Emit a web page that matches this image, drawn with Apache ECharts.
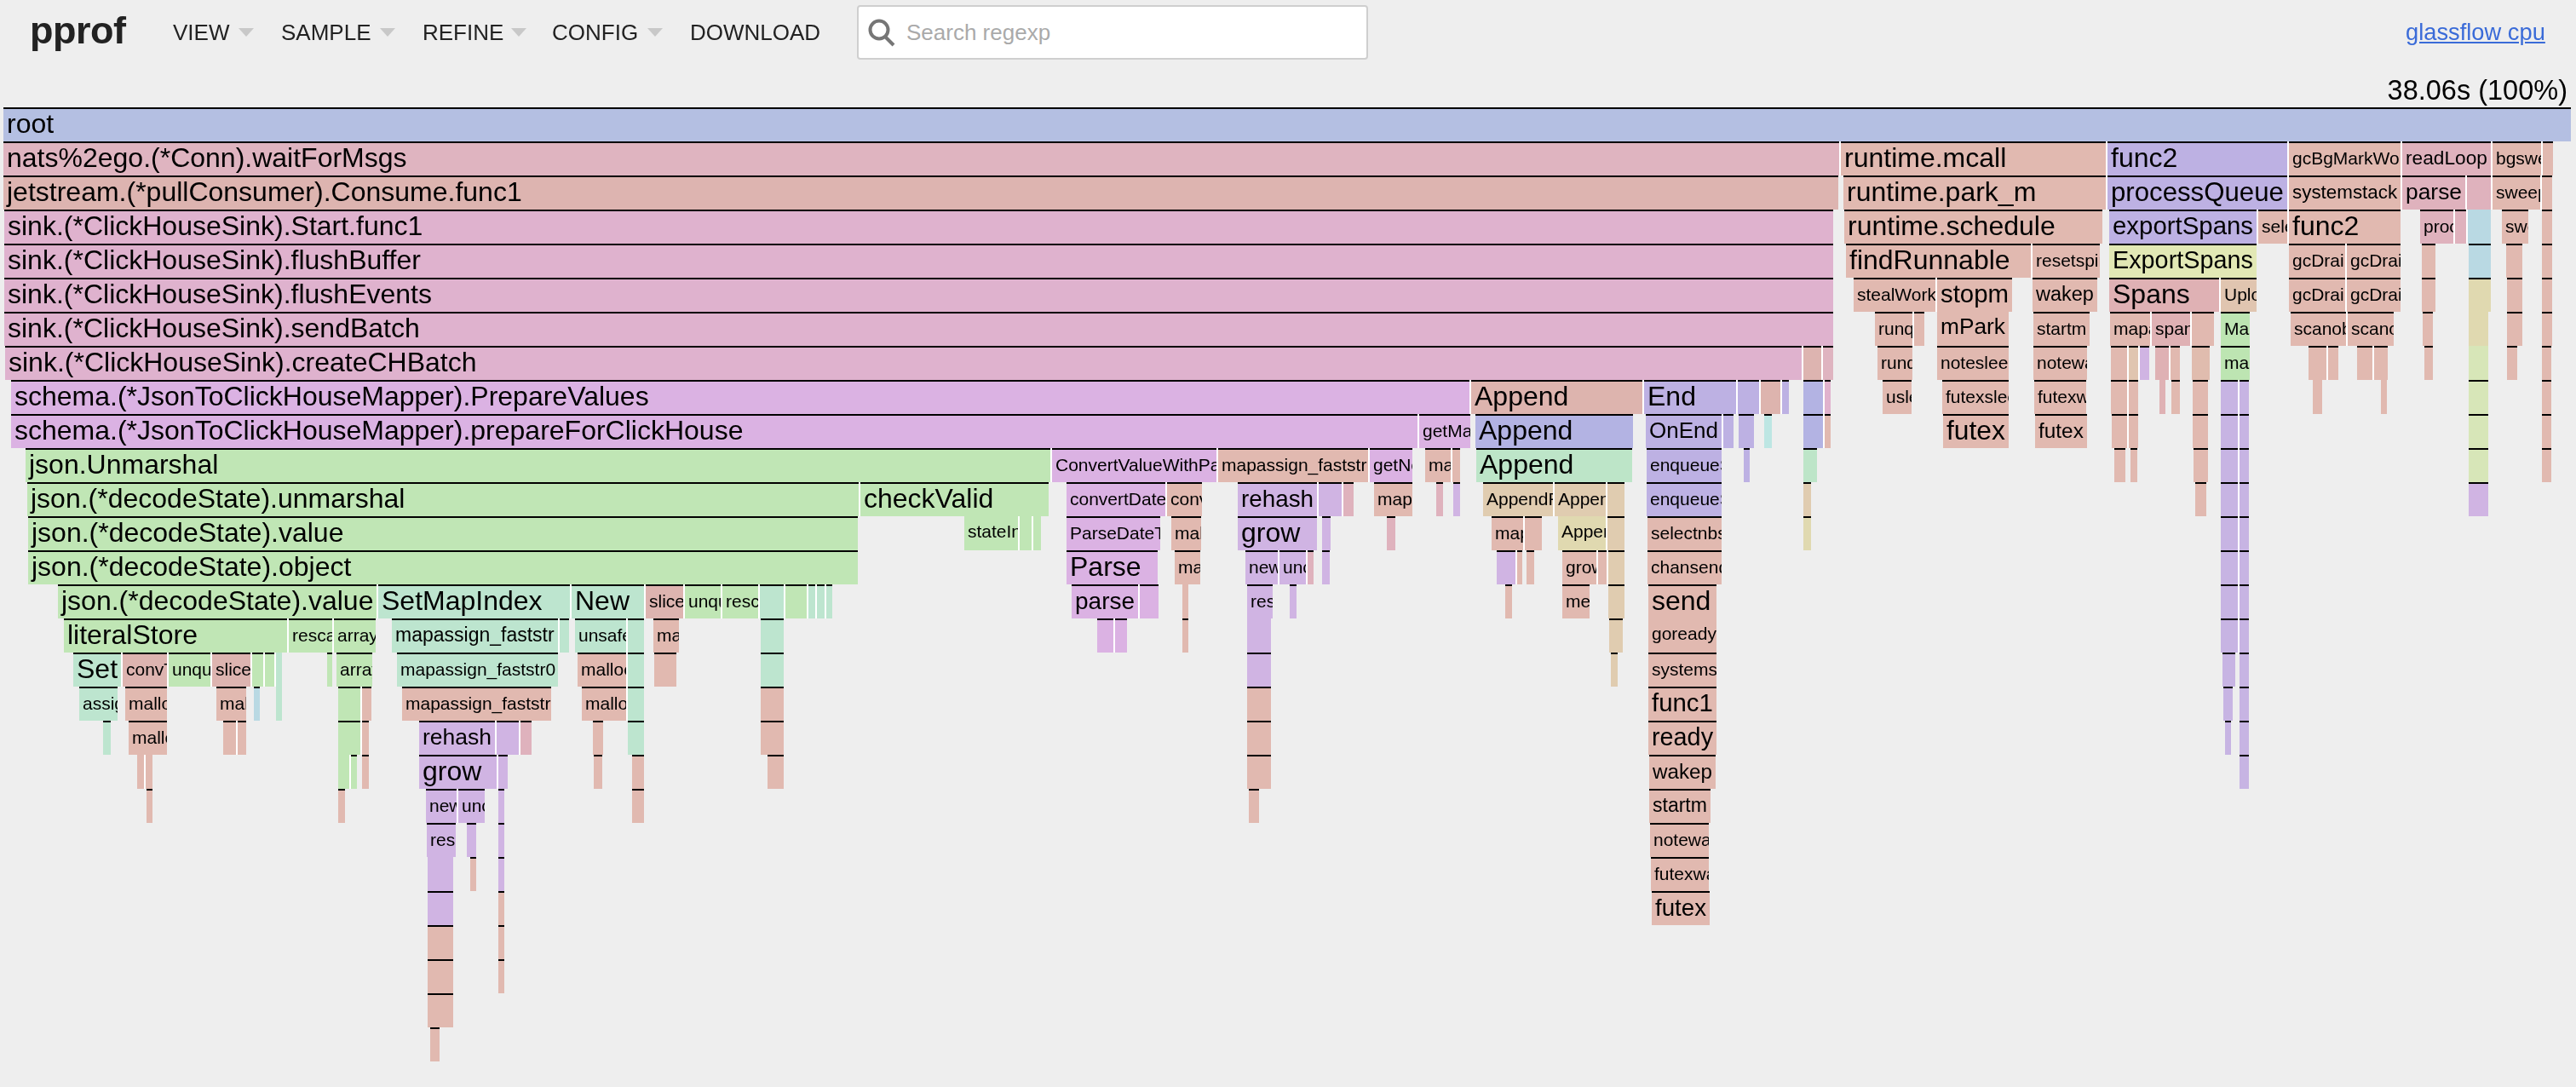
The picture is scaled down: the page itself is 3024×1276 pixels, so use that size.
<!DOCTYPE html>
<html>
<head>
<meta charset="utf-8">
<title>pprof flame graph</title>
<script src="https://cdn.jsdelivr.net/npm/echarts@6/dist/echarts.min.js"></script>
<style>
  html, body { margin: 0; padding: 0; background: #eeeeee; width: 3024px; height: 1276px; overflow: hidden; }
  body { font-family: "Liberation Sans", Arial, sans-serif; color: #222; position: relative; }
  #flame { position: absolute; left: 0; top: 0; width: 3024px; height: 1276px; }
  .head { position: absolute; white-space: nowrap; }
  #logo { left: 35px; top: 11px; font-size: 45px; line-height: 50px; font-weight: bold; letter-spacing: -0.5px; color: #222; }
  .menu { top: 23px; font-size: 26px; line-height: 30px; color: #222; }
  .caret { top: 33px; width: 0; height: 0; border-left: 9px solid transparent; border-right: 9px solid transparent; border-top: 10px solid #c8c8c8; }
  #search { left: 1006px; top: 6px; width: 596px; height: 60px; background: #fff; border: 2px solid #cfcfcf; border-radius: 4px; }
  #icon { left: 1016px; top: 20px; }
  #hint { left: 1064px; top: 23px; font-size: 26px; line-height: 30px; color: #aaaaaa; }
  #profile { left: 2824px; top: 23px; font-size: 27.3px; line-height: 30px; color: #3a6bd8; text-decoration: underline; }
  #total { right: 10px; top: 87px; font-size: 32.5px; line-height: 38px; color: #000; }
</style>
</head>
<body>
<div id="flame"></div>
<div class="head" id="logo">pprof</div>
<div class="head menu" style="left:203px">VIEW</div><div class="head caret" style="left:280px"></div>
<div class="head menu" style="left:330px">SAMPLE</div><div class="head caret" style="left:446px"></div>
<div class="head menu" style="left:496px">REFINE</div><div class="head caret" style="left:600px"></div>
<div class="head menu" style="left:648px">CONFIG</div><div class="head caret" style="left:760px"></div>
<div class="head menu" style="left:810px">DOWNLOAD</div>
<div class="head" id="search"></div>
<svg class="head" id="icon" width="40" height="40" viewBox="0 0 40 40"><circle cx="16" cy="15" r="10.5" fill="none" stroke="#767676" stroke-width="4"/><line x1="23" y1="23" x2="33" y2="33" stroke="#767676" stroke-width="4"/></svg>
<div class="head" id="hint">Search regexp</div>
<div class="head" id="profile">glassflow cpu</div>
<div class="head" id="total">38.06s (100%)</div>
<script>
// Profile total, in seconds.
const totalSeconds = 38.06;

// Colour of each package family in the profile.
const pkgColors = {
  root: '#b4bfe2', nats: '#dfb4c0', jet: '#ddb4b0', sink: '#dfb2ce', schema: '#dbb2e3',
  json: '#c0e6b5', reflect: '#bde5cf', rt: '#e1b9b0', maps: '#d0b4e3', otel: '#bdb1e3',
  sdk: '#e2e8b5', trace: '#dfb1b4', upload: '#e0c5b0', pbuf: '#bde5b2', chgo: '#ddb4ae',
  chcol: '#b3b3e3', chbuf: '#bde5c8', chtan: '#e0ccb0', chyel: '#e0d9b0', net: '#dfb2bd',
  blue: '#b9d9e3', cyan: '#bde6e3', lime: '#d7e6b8', sinkp: '#e0b2cd', violet: '#c7b4e3', sand: '#e0bcae'
};

// One array per stack depth. Frame: [function, start s, self+children s, package, inlined].
const level0 = [['root', 0, 38.06, 'root']];
const level1 = [
  ['nats%2ego.(*Conn).waitForMsgs', 0, 27.21, 'nats'], ['runtime.mcall', 27.24, 3.93, 'rt'],
  ['func2', 31.19, 2.68, 'otel'], ['gcBgMarkWorker', 33.88, 1.65, 'rt'], ['readLoop', 35.56, 1.31, 'net'],
  ['bgsweep', 36.90, 0.71, 'rt'], ['', 37.64, 0.15, 'rt']
];
const level2 = [
  ['jetstream.(*pullConsumer).Consume.func1', 0, 27.20, 'jet'], ['runtime.park_m', 27.28, 3.89, 'rt'],
  ['processQueue', 31.19, 2.68, 'otel'], ['systemstack', 33.88, 1.65, 'rt'], ['parse', 35.56, 0.93, 'net'],
  ['', 36.52, 0.35, 'net'], ['sweepone', 36.90, 0.71, 'rt'], ['', 37.63, 0.15, 'rt']
];
const level3 = [
  ['sink.(*ClickHouseSink).Start.func1', 0.01, 27.12, 'sink'], ['runtime.schedule', 27.29, 3.83, 'rt'],
  ['exportSpans', 31.22, 2.18, 'otel'], ['selectgo', 33.43, 0.40, 'rt'], ['func2', 33.88, 1.65, 'rt'],
  ['processFrame', 35.83, 0.49, 'net'], ['', 36.34, 0.15, 'net'], ['', 36.53, 0.34, 'blue', 1],
  ['sweep', 37.04, 0.39, 'rt'], ['', 37.63, 0.15, 'rt']
];
const level4 = [
  ['sink.(*ClickHouseSink).flushBuffer', 0.01, 27.12, 'sink'], ['findRunnable', 27.31, 2.74, 'rt'],
  ['resetspinning', 30.08, 1.00, 'rt'], ['ExportSpans', 31.22, 2.18, 'sdk'], ['gcDrainMarkWorker', 33.88, 0.83, 'rt'],
  ['gcDrainMarkWorker', 34.74, 0.80, 'rt'], ['', 35.85, 0.20, 'rt'], ['', 36.54, 0.33, 'blue'],
  ['', 37.10, 0.24, 'rt'], ['', 37.63, 0.15, 'rt']
];
const level5 = [
  ['sink.(*ClickHouseSink).flushEvents', 0.01, 27.12, 'sink'], ['stealWork', 27.43, 1.21, 'rt'], ['stopm', 28.67, 1.10, 'rt'],
  ['wakep', 30.08, 0.96, 'rt'], ['Spans', 31.22, 1.63, 'trace'], ['UploadTraces', 32.87, 0.53, 'upload'],
  ['gcDrain', 33.88, 0.83, 'rt'], ['gcDrain', 34.74, 0.80, 'rt'], ['', 35.85, 0.20, 'rt'], ['', 36.54, 0.33, 'chyel'],
  ['', 37.11, 0.23, 'rt'], ['', 37.63, 0.15, 'rt']
];
const level6 = [
  ['sink.(*ClickHouseSink).sendBatch', 0.01, 27.12, 'sink'], ['runqsteal', 27.74, 0.57, 'rt'], ['', 28.32, 0.16, 'rt'],
  ['mPark', 28.67, 1.06, 'rt', 1], ['startm', 30.09, 0.83, 'rt'], ['mapaccess', 31.23, 0.58, 'rt'], ['spans', 31.85, 0.57, 'trace'],
  ['', 32.44, 0.33, 'rt'], ['Marshal', 32.87, 0.43, 'pbuf'], ['scanobject', 33.91, 0.80, 'rt'], ['scanobject', 34.75, 0.68, 'rt'],
  ['', 35.86, 0.15, 'rt'], ['', 36.54, 0.30, 'chyel', 1], ['', 37.11, 0.23, 'rt'], ['', 37.63, 0.15, 'rt']
];
const level7 = [
  ['sink.(*ClickHouseSink).createCHBatch', 0.03, 26.63, 'sink'], ['', 26.68, 0.27, 'jet'], ['', 26.97, 0.16, 'nats'],
  ['runqgrab', 27.78, 0.52, 'rt'], ['notesleep', 28.67, 1.06, 'rt'], ['notewakeup', 30.09, 0.80, 'rt'],
  ['', 31.24, 0.24, 'rt'], ['', 31.51, 0.14, 'upload'], ['', 31.67, 0.14, 'maps'], ['', 31.90, 0.20, 'trace'],
  ['', 32.12, 0.14, 'rt'], ['', 32.44, 0.27, 'sand'], ['marshal', 32.87, 0.43, 'pbuf'], ['', 34.17, 0.27, 'rt'],
  ['', 34.46, 0.15, 'rt'], ['', 34.89, 0.23, 'rt'], ['', 35.14, 0.20, 'rt'], ['', 35.89, 0.13, 'rt'],
  ['', 36.54, 0.30, 'lime', 1], ['', 37.11, 0.15, 'rt'], ['', 37.63, 0.14, 'rt']
];
const level8 = [
  ['schema.(*JsonToClickHouseMapper).PrepareValues', 0.11, 21.62, 'schema'], ['Append', 21.76, 2.54, 'chgo'], ['End', 24.32, 1.36, 'otel'],
  ['', 25.71, 0.32, 'otel'], ['', 26.05, 0.29, 'chgo'], ['', 26.37, 0.10, 'otel'], ['', 26.68, 0.27, 'chcol'], ['', 27.00, 0.09, 'sinkp'],
  ['usleep', 27.86, 0.43, 'rt'], ['futexsleep', 28.74, 0.98, 'rt'], ['futexwakeup', 30.10, 0.78, 'rt'], ['', 31.24, 0.24, 'rt'],
  ['', 31.51, 0.13, 'rt'], ['', 31.96, 0.09, 'trace', 1], ['', 32.14, 0.13, 'rt'], ['', 32.45, 0.23, 'rt'], ['', 32.87, 0.25, 'violet'],
  ['', 33.15, 0.14, 'violet'], ['', 34.23, 0.14, 'rt', 1], ['', 35.24, 0.09, 'rt', 1], ['', 36.54, 0.30, 'lime'], ['', 37.63, 0.14, 'rt']
];
const level9 = [
  ['schema.(*JsonToClickHouseMapper).prepareForClickHouse', 0.11, 20.85, 'schema'], ['getMapValue', 20.99, 0.75, 'schema'],
  ['Append', 21.82, 2.34, 'chcol'], ['OnEnd', 24.35, 1.12, 'otel'], ['', 25.50, 0.15, 'otel'], ['', 25.72, 0.23, 'otel'], ['', 26.10, 0.11, 'cyan'],
  ['', 26.68, 0.27, 'chcol'], ['', 27.00, 0.09, 'rt'], ['futex', 28.75, 0.97, 'rt'], ['futex', 30.12, 0.77, 'rt'], ['', 31.25, 0.23, 'rt'],
  ['', 31.51, 0.13, 'rt'], ['', 32.45, 0.23, 'rt'], ['', 32.87, 0.25, 'violet'], ['', 33.15, 0.14, 'violet'], ['', 36.54, 0.30, 'lime'], ['', 37.63, 0.14, 'rt']
];
const level10 = [
  ['json.Unmarshal', 0.33, 15.18, 'json'], ['ConvertValueWithParams', 15.55, 2.44, 'schema'], ['mapassign_faststr', 18.01, 2.22, 'rt'],
  ['getNestedValue', 20.26, 0.62, 'schema'], ['mapaccess', 21.08, 0.38, 'rt'], ['', 21.48, 0.11, 'rt'], ['Append', 21.83, 2.32, 'chbuf'],
  ['enqueueSpan', 24.36, 1.11, 'otel'], ['', 25.80, 0.09, 'otel'], ['', 26.68, 0.21, 'chbuf'], ['', 31.29, 0.16, 'rt'], ['', 31.53, 0.10, 'rt'],
  ['', 32.47, 0.21, 'rt'], ['', 32.87, 0.25, 'violet'], ['', 33.15, 0.14, 'violet'], ['', 36.54, 0.29, 'lime'], ['', 37.63, 0.14, 'rt']
];
const level11 = [
  ['json.(*decodeState).unmarshal', 0.35, 12.33, 'json'], ['checkValid', 12.70, 2.79, 'json'], ['convertDateTime', 15.76, 1.46, 'schema'],
  ['convertType', 17.25, 0.52, 'rt'], ['rehash', 18.30, 1.17, 'maps'], ['', 19.50, 0.34, 'maps'], ['', 19.86, 0.15, 'net'], ['mapassign', 20.32, 0.56, 'rt'],
  ['', 21.24, 0.10, 'net'], ['', 21.49, 0.10, 'maps'], ['AppendRow', 21.93, 1.04, 'chtan'], ['Append', 23.00, 0.76, 'chtan'], ['', 23.78, 0.25, 'chtan'],
  ['enqueueSpan', 24.36, 1.11, 'otel'], ['', 26.68, 0.11, 'chtan'], ['', 32.49, 0.16, 'rt'], ['', 32.87, 0.25, 'violet'], ['', 33.15, 0.14, 'violet'],
  ['', 36.54, 0.29, 'maps']
];
const level12 = [
  ['json.(*decodeState).value', 0.37, 12.29, 'json'], ['stateInString', 14.24, 0.81, 'json', 1], ['', 15.07, 0.18, 'json', 1], ['', 15.27, 0.11, 'json', 1],
  ['ParseDateTime', 15.76, 1.39, 'schema'], ['mallocgc', 17.31, 0.45, 'rt'], ['grow', 18.30, 1.17, 'maps'], ['', 19.55, 0.13, 'maps'], ['', 20.51, 0.13, 'net'],
  ['mapassign', 22.06, 0.47, 'rt'], ['', 22.55, 0.25, 'rt'], ['Append', 23.05, 0.71, 'chyel', 1], ['', 23.78, 0.25, 'chtan'], ['selectnbsend', 24.37, 1.10, 'rt'],
  ['', 26.68, 0.11, 'chyel'], ['', 32.87, 0.24, 'violet'], ['', 33.15, 0.14, 'violet']
];
const level13 = [
  ['json.(*decodeState).object', 0.37, 12.29, 'json'], ['Parse', 15.76, 1.35, 'schema'], ['mallocgc', 17.36, 0.38, 'rt'], ['newarray', 18.41, 0.48, 'maps'],
  ['uncommon', 18.92, 0.39, 'maps'], ['', 19.33, 0.09, 'net'], ['', 19.55, 0.11, 'maps'], ['', 22.14, 0.28, 'maps'], ['', 22.44, 0.08, 'rt'], ['', 22.58, 0.11, 'rt'],
  ['growslice', 23.11, 0.51, 'rt'], ['', 23.64, 0.11, 'rt'], ['', 23.79, 0.24, 'chtan'], ['chansend1', 24.37, 1.10, 'rt'], ['', 32.87, 0.24, 'violet'], ['', 33.15, 0.14, 'violet']
];
const level14 = [
  ['json.(*decodeState).value', 0.81, 4.72, 'json'], ['SetMapIndex', 5.56, 2.84, 'reflect'], ['New', 8.42, 1.07, 'reflect'], ['slicebytetostring', 9.52, 0.56, 'jet'],
  ['unquote', 10.10, 0.53, 'json'], ['rescanLiteral', 10.66, 0.53, 'json'], ['', 11.21, 0.37, 'reflect'], ['', 11.59, 0.32, 'json'], ['', 11.93, 0.11, 'reflect'],
  ['', 12.06, 0.11, 'reflect'], ['', 12.20, 0.09, 'reflect'], ['parse', 15.84, 0.98, 'schema'], ['', 16.85, 0.27, 'schema'], ['', 17.48, 0.09, 'rt', 1],
  ['resize', 18.44, 0.38, 'maps'], ['', 19.07, 0.10, 'maps'], ['', 22.26, 0.10, 'rt'], ['memmove', 23.11, 0.40, 'rt'], ['', 23.79, 0.24, 'chtan'],
  ['send', 24.38, 1.02, 'rt'], ['', 32.87, 0.24, 'violet'], ['', 33.15, 0.14, 'violet']
];
const level15 = [
  ['literalStore', 0.90, 3.31, 'json'], ['rescanLiteral', 4.23, 0.64, 'json'], ['array', 4.90, 0.62, 'json'], ['mapassign_faststr', 5.76, 2.46, 'reflect'],
  ['', 8.25, 0.13, 'reflect'], ['unsafe_New', 8.47, 0.77, 'reflect'], ['', 9.26, 0.24, 'reflect'], ['mallocgc', 9.64, 0.38, 'rt'], ['', 11.23, 0.34, 'reflect'],
  ['', 16.21, 0.25, 'schema'], ['', 16.48, 0.18, 'schema'], ['', 17.48, 0.09, 'rt'], ['', 18.44, 0.35, 'maps', 1], ['', 23.80, 0.20, 'chtan'],
  ['goready', 24.38, 1.01, 'rt', 1], ['', 32.87, 0.24, 'violet'], ['', 33.15, 0.14, 'violet']
];
const level16 = [
  ['Set', 1.04, 0.71, 'reflect'], ['convTstring', 1.77, 0.66, 'jet'], ['unquote', 2.45, 0.62, 'json'], ['slicebytetostring', 3.09, 0.58, 'jet'], ['', 3.69, 0.16, 'json'],
  ['', 3.88, 0.14, 'json'], ['', 4.04, 0.09, 'reflect', 1], ['', 4.80, 0.08, 'json'], ['arrayInterface', 4.94, 0.53, 'json'], ['mapassign_faststr0', 5.83, 2.39, 'reflect'],
  ['mallocgc', 8.51, 0.73, 'rt'], ['', 9.26, 0.24, 'reflect'], ['', 9.65, 0.32, 'rt'], ['', 11.23, 0.34, 'reflect'], ['', 18.44, 0.35, 'maps'],
  ['', 23.83, 0.10, 'chtan'], ['systemstack', 24.38, 1.01, 'rt'], ['', 32.90, 0.18, 'violet'], ['', 33.15, 0.14, 'violet']
];
const level17 = [
  ['assignTo', 1.12, 0.57, 'reflect'], ['mallocgc', 1.81, 0.62, 'rt'], ['mallocgc', 3.16, 0.44, 'rt'], ['', 3.71, 0.09, 'blue'], ['', 4.04, 0.09, 'reflect', 1],
  ['', 4.96, 0.33, 'json'], ['', 5.32, 0.13, 'rt'], ['mapassign_faststr', 5.91, 2.21, 'rt'], ['mallocgc', 8.57, 0.63, 'rt'], ['', 9.26, 0.24, 'reflect'],
  ['', 11.23, 0.34, 'rt'], ['', 18.44, 0.35, 'rt'], ['func1', 24.38, 1.01, 'rt'], ['', 32.91, 0.14, 'violet'], ['', 33.15, 0.14, 'violet']
];
const level18 = [
  ['', 1.48, 0.11, 'reflect'], ['mallocgc', 1.86, 0.57, 'rt'], ['', 3.26, 0.19, 'rt'], ['', 3.47, 0.13, 'rt'], ['', 4.96, 0.33, 'json'], ['', 5.32, 0.10, 'rt'],
  ['rehash', 6.16, 1.14, 'maps'], ['', 7.31, 0.33, 'maps'], ['', 7.67, 0.16, 'net'], ['', 8.74, 0.15, 'rt'], ['', 9.26, 0.24, 'reflect'], ['', 11.23, 0.34, 'rt'],
  ['', 18.44, 0.35, 'rt'], ['ready', 24.38, 1.01, 'rt'], ['', 32.93, 0.09, 'violet'], ['', 33.15, 0.14, 'violet']
];
const level19 = [
  ['', 1.98, 0.10, 'rt', 1], ['', 2.11, 0.10, 'rt', 1], ['', 4.96, 0.16, 'json', 1], ['', 5.15, 0.09, 'json'], ['', 5.32, 0.10, 'rt'], ['grow', 6.16, 1.14, 'maps'],
  ['', 7.34, 0.13, 'maps'], ['', 8.75, 0.13, 'rt'], ['', 9.32, 0.18, 'rt'], ['', 11.33, 0.24, 'rt'], ['', 18.44, 0.35, 'rt'], ['wakep', 24.40, 0.98, 'rt'], ['', 33.15, 0.14, 'violet']
];
const level20 = [
  ['', 2.12, 0.09, 'rt'], ['', 4.96, 0.10, 'rt'], ['newarray', 6.26, 0.45, 'maps'], ['uncommon', 6.74, 0.40, 'maps'], ['', 7.34, 0.09, 'maps'], ['', 9.32, 0.18, 'rt'],
  ['', 18.46, 0.15, 'rt'], ['startm', 24.40, 0.91, 'rt']
];
const level21 = [['resize', 6.28, 0.42, 'maps'], ['', 6.87, 0.14, 'maps'], ['', 7.34, 0.09, 'maps'], ['notewakeup', 24.41, 0.87, 'rt']];
const level22 = [['', 6.29, 0.38, 'maps', 1], ['', 6.92, 0.09, 'rt'], ['', 7.34, 0.09, 'maps'], ['futexwakeup', 24.42, 0.86, 'rt']];
const level23 = [['', 6.29, 0.38, 'maps'], ['', 7.34, 0.09, 'rt'], ['futex', 24.44, 0.85, 'rt']];
const level24 = [['', 6.29, 0.38, 'rt'], ['', 7.34, 0.09, 'rt']];
const level25 = [['', 6.29, 0.38, 'rt'], ['', 7.34, 0.09, 'rt']];
const level26 = [['', 6.29, 0.38, 'rt']];
const level27 = [['', 6.33, 0.14, 'rt']];

const levels = [
  level0, level1, level2, level3, level4, level5, level6, level7, level8, level9,
  level10, level11, level12, level13, level14, level15, level16, level17, level18, level19,
  level20, level21, level22, level23, level24, level25, level26, level27
];

// Flatten the levels, remembering where the next sibling on the row starts.
const frames = [];
levels.forEach(function (row, depth) {
  row.forEach(function (f, i) {
    frames.push({
      name: f[0], start: f[1], end: f[1] + f[2], pkg: f[3], inlined: !!f[4], depth: depth,
      nextStart: i + 1 < row.length ? row[i + 1][1] : null
    });
  });
});

const FONT_MAX = 32, FONT_MIN = 21, LABEL_PAD = 8, GAP = 2;
const measure = document.createElement('canvas').getContext('2d');
measure.font = '100px "Liberation Sans"';

// Labels shrink to fit their frame, down to a floor; beyond that they are clipped.
function labelSize(text, width) {
  const em = measure.measureText(text).width / 100;
  return Math.max(FONT_MIN, Math.min(FONT_MAX, (width - LABEL_PAD) / em));
}

function renderFrame(params, api) {
  const f = frames[params.dataIndex];
  const x0 = Math.round(api.coord([api.value(0), api.value(2)])[0]);
  let x1 = Math.round(api.coord([api.value(1), api.value(2)])[0]);
  const top = Math.round(api.coord([0, api.value(2)])[1]);
  const bottom = Math.round(api.coord([0, api.value(2) + 1])[1]);
  let gapRect = null;
  if (f.nextStart !== null) {
    const nx = Math.round(api.coord([f.nextStart, api.value(2)])[0]);
    if (nx - x1 < 5) {
      x1 = nx - GAP;
      gapRect = { type: 'rect', shape: { x: x1, y: top, width: GAP, height: bottom - top }, style: { fill: '#ffffff' } };
    }
  }
  const width = x1 - x0;
  const children = [{ type: 'rect', shape: { x: x0, y: top, width: width, height: bottom - top }, style: { fill: pkgColors[f.pkg] } }];
  if (gapRect) children.push(gapRect);
  if (!f.inlined) {
    children.push({ type: 'rect', shape: { x: x0, y: top, width: width, height: 2 }, style: { fill: '#000000' } });
  }
  if (f.name) {
    const size = labelSize(f.name, width);
    children.push({
      type: 'text',
      style: {
        text: f.name, x: x0 + 4, y: top + (f.inlined ? 19 : 21),
        font: size.toFixed(1) + 'px "Liberation Sans"', fill: '#000000',
        textAlign: 'left', textVerticalAlign: 'middle'
      },
      clipPath: { type: 'rect', shape: { x: x0, y: top, width: width, height: bottom - top } }
    });
  }
  return { type: 'group', children: children };
}

const chart = echarts.init(document.getElementById('flame'), null, { renderer: 'canvas' });
chart.setOption({
  animation: false,
  backgroundColor: 'transparent',
  grid: { left: 4, right: 6, top: 126, bottom: 0 },
  xAxis: { type: 'value', min: 0, max: totalSeconds, show: false },
  yAxis: { type: 'value', inverse: true, min: 0, max: 28.75, show: false },
  series: [{
    type: 'custom',
    clip: false,
    silent: true,
    renderItem: renderFrame,
    encode: { x: [0, 1], y: 2 },
    data: frames.map(function (f) { return [f.start, f.end, f.depth]; })
  }]
});
</script>
</body>
</html>
